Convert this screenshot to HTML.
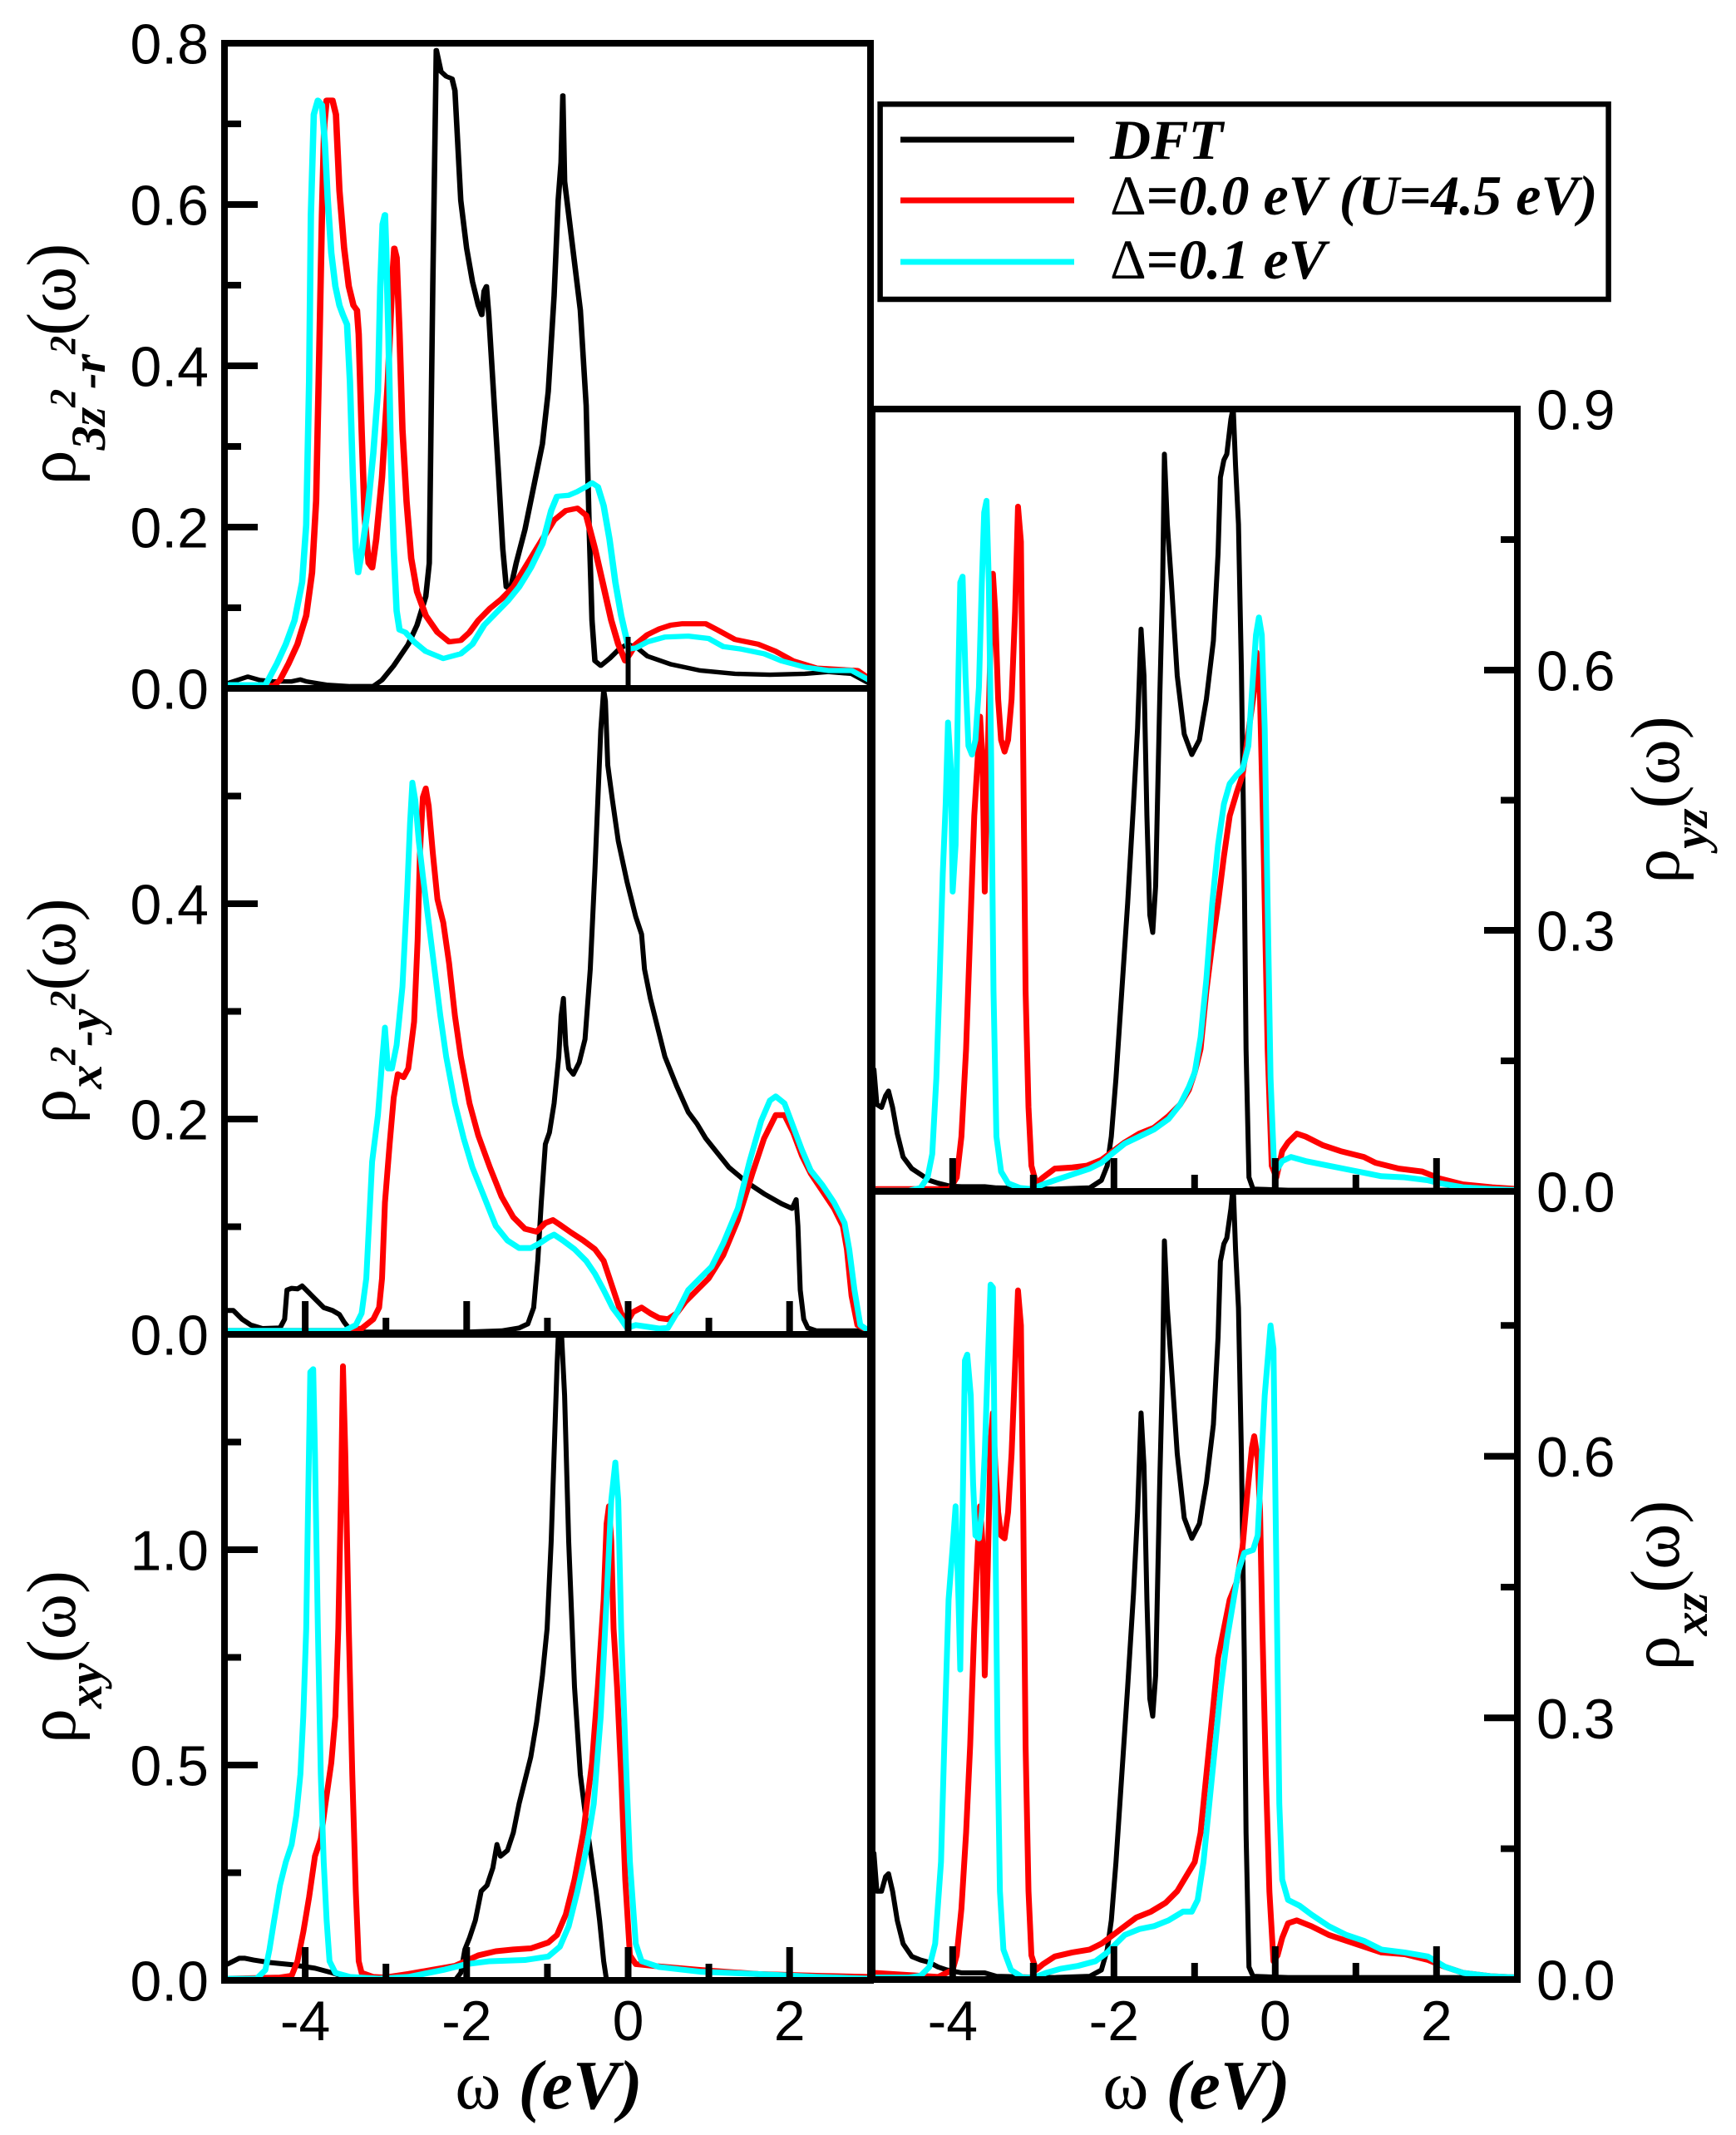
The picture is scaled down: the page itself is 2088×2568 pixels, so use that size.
<!DOCTYPE html>
<html><head><meta charset="utf-8"><style>html,body{margin:0;padding:0;background:#fff}svg{display:block}</style></head>
<body>
<svg width="2088" height="2568" viewBox="0 0 2088 2568" xmlns="http://www.w3.org/2000/svg">
<rect x="0" y="0" width="2088" height="2568" fill="#fff"/>
<defs>
<clipPath id="cTL" clipPathUnits="userSpaceOnUse"><rect x="270" y="52" width="777" height="776"/></clipPath>
<clipPath id="cML" clipPathUnits="userSpaceOnUse"><rect x="270" y="828" width="777" height="777"/></clipPath>
<clipPath id="cBL" clipPathUnits="userSpaceOnUse"><rect x="270" y="1605" width="777" height="777"/></clipPath>
<clipPath id="cTR" clipPathUnits="userSpaceOnUse"><rect x="1049" y="492" width="776" height="941"/></clipPath>
<clipPath id="cBR" clipPathUnits="userSpaceOnUse"><rect x="1049" y="1433" width="776" height="948"/></clipPath>
</defs>
<style>
.k{fill:none;stroke:#000;stroke-width:8.55;stroke-linejoin:round;stroke-linecap:round}
.r{fill:none;stroke:#ff0000;stroke-width:9.98;stroke-linejoin:round;stroke-linecap:round}
.c{fill:none;stroke:#00ffff;stroke-width:9.98;stroke-linejoin:round;stroke-linecap:round}
.tl .k{stroke-width:9.4}
.tl .r,.tl .c{stroke-width:10.9}
.t{font-family:"Liberation Sans",sans-serif;font-size:68px;fill:#000}
.lab{font-family:"Liberation Serif",serif;font-size:84px;fill:#000}
.sb{font-family:"Liberation Serif",serif;font-weight:bold;font-style:italic}
</style>

<!-- Top-left curves (zoom1 coords) -->
<g clip-path="url(#cTL)">
<g class="tl" transform="scale(0.70153,0.57398)">
<polyline class="k" points="390,1432 425,1418 445,1425 470,1428 500,1428 515,1424 525,1428 560,1435 600,1438 640,1438 655,1425 675,1395 700,1350 715,1310 730,1250 736,1180 742,600 748,105 756,150 765,160 775,165 780,190 790,420 800,520 810,590 820,640 826,660 830,610 834,600 838,660 845,800 855,1000 862,1150 868,1230 875,1235 885,1180 900,1110 915,1020 930,930 940,820 950,620 957,420 962,340 965,200 968,380 975,450 985,550 995,650 1005,850 1010,1100 1015,1300 1020,1385 1030,1395 1045,1380 1060,1362 1075,1350 1090,1355 1110,1375 1150,1392 1200,1405 1260,1412 1320,1414 1380,1412 1420,1408 1460,1412 1490,1432"/>
<polyline class="r" points="390,1437 470,1437 480,1425 495,1390 510,1350 525,1290 535,1200 542,1050 548,700 552,450 556,260 560,210 570,210 576,240 582,400 590,520 598,600 606,640 612,650 615,700 620,900 625,1080 632,1180 638,1190 645,1130 655,1000 665,800 672,600 676,520 680,540 685,700 690,900 697,1050 705,1170 715,1240 730,1290 750,1325 770,1345 790,1342 805,1325 820,1300 840,1275 860,1255 880,1230 900,1190 920,1150 935,1120 950,1090 970,1070 990,1065 1005,1080 1020,1150 1035,1230 1048,1300 1060,1350 1072,1385 1080,1370 1090,1350 1110,1330 1130,1318 1150,1310 1170,1307 1210,1307 1230,1320 1260,1340 1300,1350 1330,1365 1360,1385 1400,1400 1440,1403 1470,1405 1490,1422"/>
<polyline class="c" points="390,1435 455,1435 462,1420 475,1390 490,1350 505,1300 518,1220 525,1100 530,800 533,450 538,240 545,210 552,220 557,300 562,420 568,530 575,600 582,640 588,660 595,680 600,800 605,1000 610,1150 614,1200 620,1160 630,1070 640,950 648,820 652,600 656,470 660,450 662,520 666,700 670,950 675,1150 680,1280 685,1320 695,1325 710,1345 730,1365 760,1380 790,1370 810,1350 830,1310 850,1285 870,1260 890,1230 910,1190 930,1140 945,1070 955,1040 975,1038 990,1030 1005,1020 1015,1012 1025,1020 1035,1060 1045,1130 1055,1220 1065,1290 1078,1360 1090,1358 1110,1345 1140,1335 1180,1333 1215,1338 1240,1355 1270,1360 1310,1370 1340,1385 1380,1398 1420,1405 1460,1405 1490,1425"/>
</g>
</g>
<line x1="755.5" y1="766" x2="755.5" y2="828" stroke="#000" stroke-width="6"/>

<!-- Middle-left curves (zoom3) -->
<g clip-path="url(#cML)">
<g transform="translate(0,780) scale(0.70153)">
<polyline class="k" points="390,1135 400,1135 405,1140 415,1150 430,1160 450,1166 480,1165 488,1150 492,1100 500,1097 510,1098 518,1093 525,1100 540,1115 555,1130 570,1135 582,1142 590,1155 600,1168 620,1172 700,1172 800,1172 860,1170 890,1165 905,1158 915,1130 922,1050 928,950 935,850 942,830 950,780 958,700 962,630 966,600 970,680 975,720 983,730 993,710 1003,670 1012,550 1020,380 1025,260 1030,140 1035,70 1038,90 1042,200 1050,260 1060,330 1075,400 1090,460 1100,490 1105,550 1115,600 1125,640 1140,700 1160,750 1180,795 1195,815 1210,840 1230,865 1250,890 1280,915 1310,935 1340,952 1358,960 1365,945 1368,990 1372,1100 1378,1150 1385,1165 1400,1170 1450,1170 1490,1170"/>
<polyline class="r" points="390,1170 590,1170 620,1166 640,1150 650,1130 655,1080 660,950 668,850 675,770 682,730 692,735 700,720 710,640 716,500 720,350 725,255 730,240 735,270 742,350 750,430 760,470 770,540 780,630 790,700 805,780 820,835 840,890 860,940 880,975 900,995 920,1000 935,985 948,980 960,988 980,1002 1000,1015 1020,1030 1035,1050 1045,1080 1055,1110 1065,1140 1075,1155 1085,1138 1100,1130 1115,1140 1130,1148 1145,1150 1160,1140 1175,1120 1195,1100 1215,1080 1240,1040 1265,980 1290,900 1310,840 1330,800 1345,800 1360,830 1375,870 1390,900 1410,930 1430,960 1445,990 1452,1030 1460,1110 1470,1160 1490,1170"/>
<polyline class="c" points="390,1170 590,1170 610,1160 620,1140 628,1080 633,980 638,880 648,800 655,710 660,650 665,720 672,720 680,680 690,580 698,420 703,300 707,230 712,260 718,330 725,390 735,470 745,550 755,630 765,700 780,780 795,840 810,890 830,940 850,990 870,1015 890,1028 910,1028 925,1020 940,1010 950,1005 965,1015 985,1030 1005,1050 1020,1072 1035,1100 1050,1130 1065,1150 1075,1165 1090,1160 1110,1163 1130,1166 1145,1165 1160,1140 1180,1100 1200,1080 1220,1060 1240,1020 1265,960 1285,880 1305,810 1320,775 1330,768 1345,780 1360,820 1375,860 1390,895 1410,920 1430,950 1448,985 1456,1030 1465,1100 1475,1160 1490,1170"/>
</g>
</g>

<!-- Bottom-left curves (zoom4) -->
<g clip-path="url(#cBL)">
<g transform="translate(0,1468) scale(0.70153)">
<polyline class="k" points="390,1275 400,1270 410,1265 420,1265 435,1268 460,1272 500,1276 540,1282 570,1290 600,1300 640,1303 780,1303 790,1290 797,1250 805,1230 815,1200 825,1150 835,1140 845,1110 852,1070 858,1090 870,1080 880,1050 890,1000 900,960 910,920 920,860 930,780 938,700 945,550 950,400 955,250 958,180 962,180 968,300 975,550 985,800 995,950 1005,1030 1015,1100 1022,1150 1028,1200 1035,1270 1040,1303"/>
<polyline class="r" points="390,1300 480,1298 500,1295 510,1270 520,1220 530,1160 540,1090 550,1060 558,1000 568,930 575,850 580,700 585,450 588,250 592,400 598,700 604,950 610,1150 615,1270 620,1290 640,1297 660,1298 700,1292 740,1285 780,1278 820,1260 850,1253 880,1250 910,1248 940,1238 955,1225 970,1190 985,1130 1000,1050 1015,930 1025,800 1035,650 1040,520 1044,490 1048,550 1052,700 1058,800 1065,950 1072,1130 1080,1260 1090,1275 1120,1278 1200,1285 1300,1292 1400,1295 1490,1297"/>
<polyline class="c" points="390,1300 440,1300 455,1285 462,1250 470,1200 480,1140 490,1100 500,1070 508,1020 515,950 520,850 525,700 528,500 532,260 537,255 540,400 545,700 550,950 555,1100 560,1200 565,1270 575,1290 600,1297 650,1300 700,1297 760,1285 800,1275 840,1270 900,1268 940,1262 960,1245 975,1210 990,1150 1005,1080 1018,1000 1030,850 1040,650 1048,480 1055,415 1060,480 1065,700 1072,900 1080,1100 1090,1240 1100,1270 1130,1280 1200,1288 1300,1292 1400,1297 1490,1300"/>
</g>
</g>

<!-- Top-right curves (zoom5) -->
<g clip-path="url(#cTR)">
<g transform="translate(988,420) scale(0.70153)">
<polyline class="k" points="90,1235 95,1295 103,1300 110,1280 115,1272 122,1300 130,1345 140,1385 155,1405 170,1415 185,1425 200,1430 220,1435 240,1436 280,1436 300,1438 400,1440 460,1438 480,1425 490,1400 497,1350 505,1250 515,1100 525,950 535,780 542,650 548,480 553,560 558,800 563,970 568,1000 573,920 580,600 585,400 588,180 593,300 600,400 610,560 622,660 635,695 648,670 660,600 672,500 680,350 684,220 690,190 695,180 702,120 706,100 710,200 715,300 720,550 725,900 728,1200 733,1420 740,1440 800,1442 1195,1442"/>
<polyline class="r" points="90,1440 220,1440 232,1420 240,1350 248,1200 255,1000 262,800 268,700 272,630 276,700 280,930 285,700 290,500 294,385 298,450 303,600 308,670 314,690 320,670 326,600 332,450 337,270 342,330 346,700 350,1100 355,1300 360,1400 368,1430 380,1420 400,1405 430,1403 455,1400 480,1390 500,1375 520,1360 545,1345 570,1335 595,1315 615,1295 630,1270 640,1240 650,1200 660,1100 670,1020 680,950 690,870 700,800 712,760 722,730 733,650 740,600 746,520 752,600 758,850 765,1200 772,1400 780,1420 790,1375 800,1360 815,1345 830,1350 860,1365 890,1375 910,1380 930,1385 950,1395 990,1405 1030,1410 1060,1422 1100,1432 1150,1437 1195,1440"/>
<polyline class="c" points="90,1443 150,1443 170,1438 182,1420 190,1380 197,1250 202,1100 208,900 213,780 217,640 222,720 225,930 230,850 234,600 238,400 242,390 247,560 252,680 258,695 264,670 270,580 275,400 279,280 283,260 287,400 291,700 295,1100 300,1350 308,1410 320,1430 340,1438 360,1440 380,1432 400,1425 430,1415 460,1405 480,1395 500,1378 520,1362 545,1350 570,1338 595,1320 615,1295 630,1265 640,1240 650,1180 660,1080 670,950 680,850 690,780 700,745 712,730 722,720 732,680 740,560 745,490 750,460 755,490 760,650 765,950 770,1250 776,1400 782,1405 790,1392 805,1385 830,1392 870,1400 910,1408 960,1418 1000,1420 1040,1425 1060,1430 1100,1437 1150,1440 1195,1442"/>
</g>
</g>

<!-- Bottom-right curves (zoom6) -->
<g clip-path="url(#cBR)">
<g transform="translate(988,1468) scale(0.70153)">
<polyline class="k" points="90,1085 95,1150 103,1150 110,1125 115,1120 122,1150 130,1200 140,1240 155,1262 170,1268 185,1272 200,1280 215,1285 240,1290 280,1290 300,1296 400,1298 460,1296 480,1285 490,1250 497,1200 505,1100 515,950 525,800 535,640 542,500 548,330 553,420 558,650 563,820 568,850 573,780 580,450 585,250 588,35 593,150 600,250 610,400 622,510 635,545 648,520 660,450 672,350 680,200 684,70 690,40 695,30 702,-20 706,-60 710,50 715,150 720,400 725,750 728,1050 733,1280 740,1296 800,1298 1195,1298"/>
<polyline class="r" points="90,1290 200,1297 225,1285 232,1260 240,1180 248,1050 255,900 262,700 268,560 272,490 276,550 280,780 285,600 290,380 294,330 298,420 303,500 308,540 314,545 320,500 326,400 332,250 337,120 342,180 346,500 350,900 355,1150 360,1260 368,1285 380,1275 400,1262 430,1255 460,1250 480,1240 500,1225 520,1210 540,1195 565,1185 590,1170 610,1150 625,1125 640,1100 650,1050 660,950 670,850 680,750 690,700 700,650 712,620 722,560 730,470 738,390 742,370 748,410 752,500 756,700 762,950 768,1150 775,1270 782,1260 790,1230 800,1205 815,1200 840,1210 870,1225 900,1235 930,1245 960,1255 1000,1258 1040,1268 1070,1280 1100,1290 1150,1296 1195,1298"/>
<polyline class="c" points="90,1298 150,1298 170,1295 185,1280 195,1240 205,1100 212,850 218,650 225,560 230,490 235,650 238,770 242,500 246,240 250,230 256,300 260,450 264,540 270,545 275,500 280,400 285,250 290,110 294,115 298,500 302,900 306,1150 312,1250 325,1285 345,1298 365,1298 385,1290 410,1283 440,1278 470,1270 490,1255 505,1240 520,1225 545,1215 570,1210 595,1200 620,1185 635,1185 645,1165 655,1100 665,1000 675,900 685,800 695,720 705,660 715,600 725,570 740,565 748,540 755,400 760,300 765,240 770,180 775,220 780,600 785,1000 790,1130 800,1165 820,1175 840,1190 870,1210 900,1225 930,1235 960,1250 1000,1255 1040,1262 1070,1280 1100,1290 1150,1296 1195,1298"/>
</g>
</g>

<!-- Frames -->
<g fill="none" stroke="#000" stroke-width="8">
<rect x="270" y="52" width="777" height="776"/>
<rect x="270" y="828" width="777" height="777"/>
<rect x="270" y="1605" width="777" height="777"/>
<rect x="1049" y="492" width="776" height="941"/>
<rect x="1049" y="1433" width="776" height="948"/>
</g>

<!-- Ticks -->
<g stroke="#000" stroke-width="8">
<path d="M270 731H290 M270 634H310 M270 537H290 M270 440H310 M270 343H290 M270 246H310 M270 149H290"/>
<path d="M270 1475.5H290 M270 1346H310 M270 1216.5H290 M270 1087H310 M270 957.5H290"/>
<path d="M270 2252.5H290 M270 2123H310 M270 1993.5H290 M270 1864H310 M270 1734.5H290"/>
<path d="M1825 1276H1805 M1825 1119H1785 M1825 962.5H1805 M1825 806H1785 M1825 649H1805"/>
<path d="M1825 2223.6H1805 M1825 2066.3H1785 M1825 1909H1805 M1825 1751.6H1785 M1825 1594.3H1805"/>
<path d="M367.1 1605V1565 M464.2 1605V1585 M561.3 1605V1565 M658.4 1605V1585 M755.5 1605V1565 M852.6 1605V1585 M949.7 1605V1565"/>
<path d="M367.1 2382V2342 M464.2 2382V2362 M561.3 2382V2342 M658.4 2382V2362 M755.5 2382V2342 M852.6 2382V2362 M949.7 2382V2342"/>
<path d="M1145.8 1433V1393 M1242.8 1433V1413 M1339.8 1433V1393 M1436.8 1433V1413 M1533.8 1433V1393 M1630.8 1433V1413 M1727.8 1433V1393"/>
<path d="M1145.8 2381V2341 M1242.8 2381V2361 M1339.8 2381V2341 M1436.8 2381V2361 M1533.8 2381V2341 M1630.8 2381V2361 M1727.8 2381V2341"/>
</g>

<!-- Tick labels -->
<g class="t" text-anchor="end">
<text x="251" y="76.5">0.8</text>
<text x="251" y="270.5">0.6</text>
<text x="251" y="464.5">0.4</text>
<text x="251" y="658.5">0.2</text>
<text x="251" y="852.5">0.0</text>
<text x="251" y="1111.5">0.4</text>
<text x="251" y="1370.5">0.2</text>
<text x="251" y="1629.5">0.0</text>
<text x="251" y="1888.5">1.0</text>
<text x="251" y="2147.5">0.5</text>
<text x="251" y="2406.5">0.0</text>
</g>
<g class="t" text-anchor="start">
<text x="1848" y="516.5">0.9</text>
<text x="1848" y="830.5">0.6</text>
<text x="1848" y="1143.5">0.3</text>
<text x="1848" y="1457.5">0.0</text>
<text x="1848" y="1776">0.6</text>
<text x="1848" y="2090.8">0.3</text>
<text x="1848" y="2405.5">0.0</text>
</g>
<g class="t" text-anchor="middle">
<text x="367.1" y="2454">-4</text>
<text x="561.3" y="2454">-2</text>
<text x="755.5" y="2454">0</text>
<text x="949.7" y="2454">2</text>
<text x="1145.8" y="2454">-4</text>
<text x="1339.8" y="2454">-2</text>
<text x="1533.8" y="2454">0</text>
<text x="1727.8" y="2454">2</text>
</g>

<!-- X axis labels -->
<text class="lab" x="660" y="2536" text-anchor="middle">ω <tspan class="sb">(eV)</tspan></text>
<text class="lab" x="1439" y="2536" text-anchor="middle">ω <tspan class="sb">(eV)</tspan></text>

<!-- Y axis labels -->
<text class="lab" text-anchor="middle" transform="translate(90,438) rotate(-90)">ρ<tspan class="sb" font-size="58" dy="36">3z</tspan><tspan class="sb" font-size="44" dy="-36">2</tspan><tspan class="sb" font-size="58" dy="36">-r</tspan><tspan class="sb" font-size="44" dy="-36">2</tspan><tspan>(ω)</tspan></text>
<text class="lab" text-anchor="middle" transform="translate(90,1216) rotate(-90)">ρ<tspan class="sb" font-size="58" dy="32">x</tspan><tspan class="sb" font-size="44" dy="-32">2</tspan><tspan class="sb" font-size="58" dy="32">-y</tspan><tspan class="sb" font-size="44" dy="-32">2</tspan><tspan>(ω)</tspan></text>
<text class="lab" text-anchor="middle" transform="translate(90,1993) rotate(-90)">ρ<tspan class="sb" font-size="58" dy="32">xy</tspan><tspan dy="-32">(ω)</tspan></text>
<text class="lab" text-anchor="middle" transform="translate(2019,962) rotate(-90)">ρ<tspan class="sb" font-size="58" dy="34">yz</tspan><tspan dy="-34">(ω)</tspan></text>
<text class="lab" text-anchor="middle" transform="translate(2019,1907) rotate(-90)">ρ<tspan class="sb" font-size="58" dy="34">xz</tspan><tspan dy="-34">(ω)</tspan></text>

<!-- Legend -->
<rect x="1058.6" y="125.3" width="876" height="234.7" fill="#fff" stroke="#000" stroke-width="6.5"/>
<line x1="1083" y1="168" x2="1292" y2="168" stroke="#000" stroke-width="7"/>
<line x1="1083" y1="241" x2="1292" y2="241" stroke="#ff0000" stroke-width="7"/>
<line x1="1083" y1="315" x2="1292" y2="315" stroke="#00ffff" stroke-width="7"/>
<g font-family="'Liberation Serif',serif" font-size="68" font-weight="bold" font-style="italic" fill="#000">
<text x="1335" y="191">DFT</text>
<text x="1335" y="258"><tspan font-style="normal" font-weight="normal">Δ</tspan><tspan font-style="normal">=</tspan>0.0 eV (U=4.5 eV)</text>
<text x="1335" y="335"><tspan font-style="normal" font-weight="normal">Δ</tspan><tspan font-style="normal">=</tspan>0.1 eV</text>
</g>
</svg>
</body></html>
